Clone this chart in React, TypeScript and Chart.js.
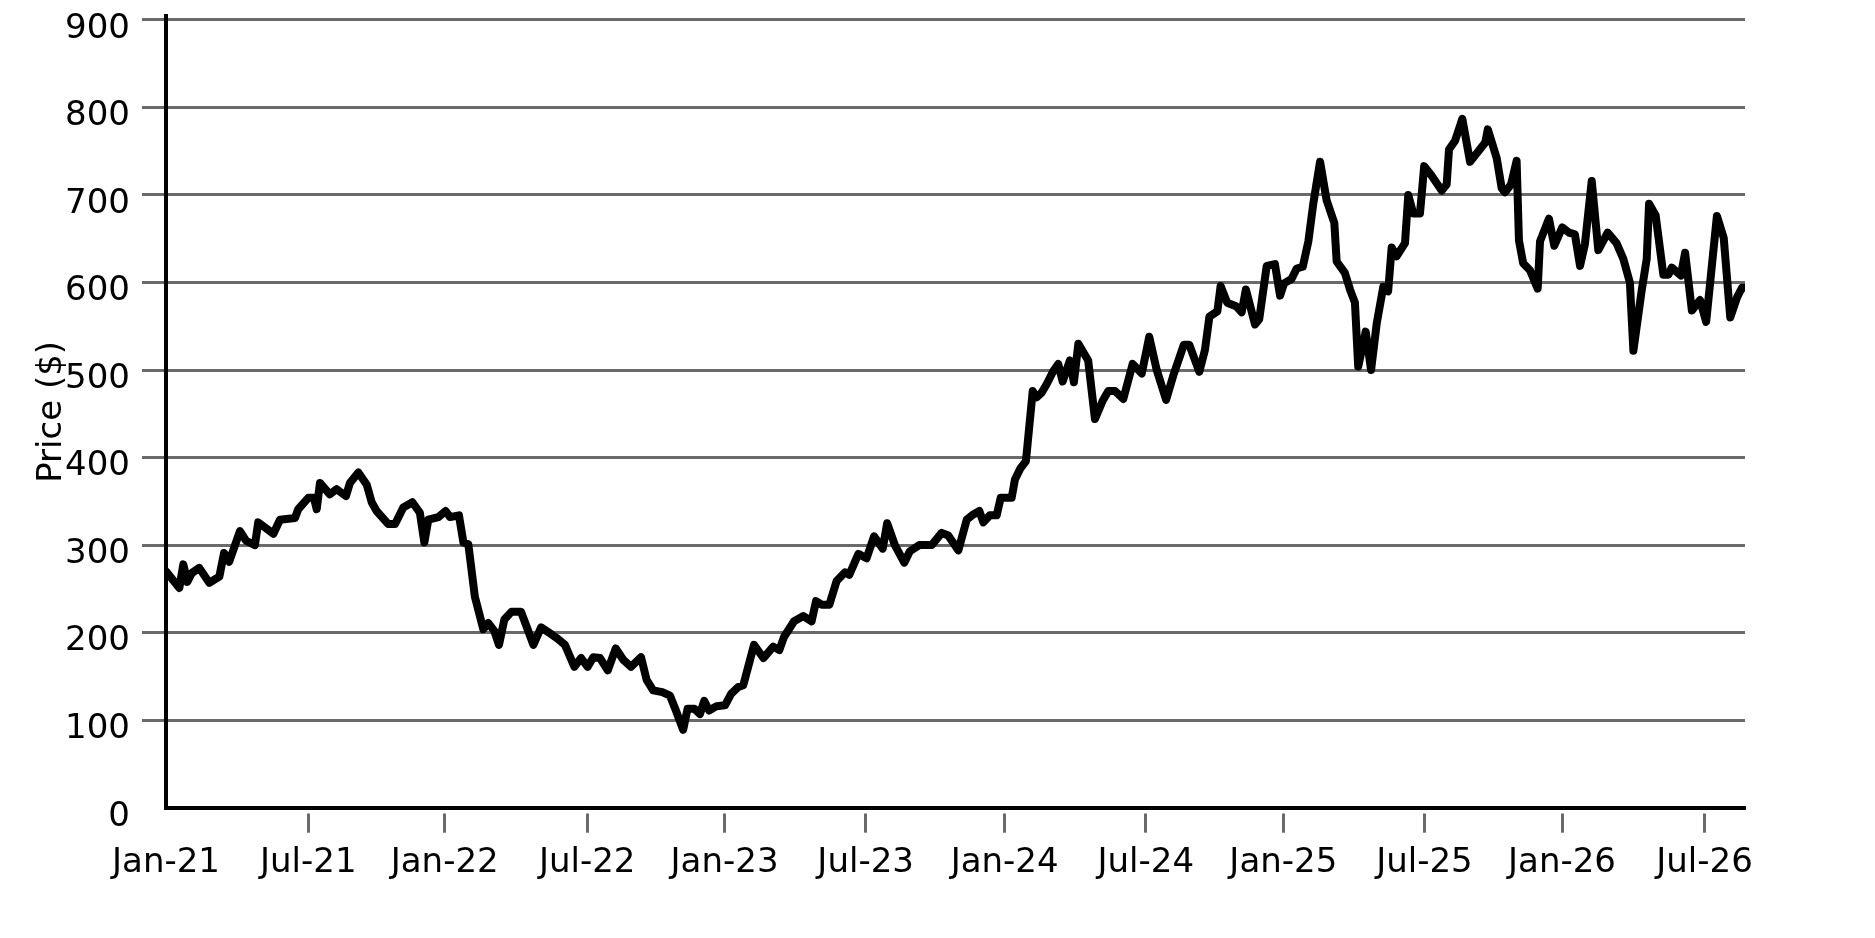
import React, { useEffect, useRef } from "react";
import { Chart, registerables } from "chart.js";

Chart.register(...registerables);

// x = months since Jan 2021, y = price in $
const months = [
  0.0, 0.57, 0.74, 0.91, 1.1, 1.42, 1.85, 2.28, 2.48, 2.7, 3.16, 3.42, 3.8, 3.94, 4.59, 4.87, 5.51, 5.65,
  6.08, 6.32, 6.44, 6.58, 7.0, 7.29, 7.69, 7.86, 8.22,
  8.58, 8.79, 9.0, 9.5, 9.79, 10.14, 10.53, 10.85, 11.04, 11.21, 11.64, 11.95, 12.14, 12.52, 12.71, 12.92,
  13.2, 13.56, 13.77, 14.03, 14.23, 14.46, 14.77, 15.17, 15.41, 15.7, 16.03, 16.48, 16.74, 17.05,
  17.45, 17.74, 18.02, 18.26, 18.55, 18.88, 19.22, 19.54, 19.87, 20.3, 20.54, 20.82, 21.21, 21.54, 21.82,
  22.1, 22.29, 22.58, 22.82, 23.0, 23.21, 23.53, 23.89, 24.15, 24.46, 24.67,
  25.13, 25.53, 25.95, 26.21, 26.41, 26.84, 27.24, 27.59, 27.78, 28.02, 28.35, 28.66, 29.02, 29.2, 29.59,
  29.94, 30.26, 30.63, 30.82, 31.15, 31.55, 31.79, 32.19, 32.72, 33.15,
  33.43, 33.86, 34.22, 34.5, 34.76, 34.93, 35.21, 35.5, 35.67, 36.14, 36.28, 36.5, 36.75, 37.04, 37.21,
  37.42, 37.64, 37.92, 38.13, 38.32, 38.63, 38.8, 38.99, 39.41, 39.7, 40.03, 40.27, 40.56, 40.91, 41.31, 41.7,
  42.02, 42.34, 42.74, 43.05, 43.5, 43.73, 44.16, 44.4, 44.59, 44.93, 45.07, 45.35, 45.73, 45.97, 46.15,
  46.54, 46.72, 47.04, 47.39, 47.61, 47.78, 48.1, 48.32, 48.58,
  48.82, 49.03, 49.32, 49.6, 49.93, 50.03, 50.38, 50.6, 50.81, 50.95, 51.27, 51.5, 51.74, 52.02, 52.23,
  52.38, 52.59, 52.95, 53.09, 53.3, 53.59, 53.77, 54.09, 54.52, 54.73, 54.83, 55.09, 55.4, 55.73, 56.06,
  56.38, 56.49, 56.87, 57.08, 57.22,
  57.48, 57.72, 57.82, 58.0, 58.29, 58.62, 58.72, 59.1, 59.33, 59.67, 59.96, 60.21, 60.43, 60.64, 60.93,
  61.21, 61.61, 61.99, 62.28, 62.56, 62.71, 63.06, 63.28, 63.38, 63.66, 63.99, 64.21, 64.35, 64.74, 64.92,
  65.21, 65.56, 65.82, 66.28, 66.57, 66.85, 67.14, 67.35, 67.45,
];

const prices = [
  270, 251, 278, 258, 268, 274, 257, 264, 291, 281, 316, 305, 300, 326, 313, 329, 331, 341,
  354, 354, 341, 371, 358, 364, 356, 371, 383,
  369, 349, 339, 324, 324, 343, 349, 337, 303, 329, 332, 339, 332, 334, 303, 301,
  241, 204, 211, 202, 186, 215, 224, 224, 207, 186, 206, 198, 193, 186,
  161, 171, 161, 172, 171, 157, 182, 169, 161, 172, 146, 134, 132, 128, 109,
  89, 113, 113, 107, 122, 111, 116, 117, 130, 138, 140,
  186, 171, 184, 180, 195, 213, 219, 213, 236, 232, 232, 259, 269, 266, 290,
  285, 310, 296, 325, 300, 280, 293, 300, 300, 314,
  311, 294, 329, 335, 339, 326, 334, 334, 354, 354, 375, 387, 396, 476, 469,
  474, 484, 499, 507, 487, 511, 486, 530, 511, 444, 465, 476, 476, 467, 507, 496,
  538, 500, 466, 494, 529, 529, 498, 523, 561, 567, 596, 577, 573, 566, 592,
  552, 558, 619, 621, 585, 599, 604, 616, 618,
  647, 690, 738, 694, 668, 624, 611, 592, 577, 504, 544, 500, 553, 595, 590,
  640, 630, 645, 700, 679, 679, 733, 722, 705, 712, 752, 762, 787, 738, 749,
  760, 775, 742, 708, 703,
  712, 739, 648, 622, 614, 593, 647, 673, 642, 663, 657, 655, 619, 644, 716,
  637, 657, 645, 627, 600, 522, 590, 627, 690, 677, 609, 609, 617, 608, 634,
  568, 580, 555, 676, 651, 560, 583, 594, 594,
];

// tick positions (same month unit as above) and their labels
const tickPositions = [0, 6.08, 11.91, 18.0, 23.87, 29.9, 35.84, 41.87, 47.75, 53.78, 59.66, 65.75];
const tickLabels = [
  "Jan-21", "Jul-21", "Jan-22", "Jul-22", "Jan-23", "Jul-23",
  "Jan-24", "Jul-24", "Jan-25", "Jul-25", "Jan-26", "Jul-26",
];

const yTicks = [0, 100, 200, 300, 400, 500, 600, 700, 800, 900];

const GRAY = "#6a6a6a";
const FONT = "'DejaVu Sans', 'Liberation Sans', sans-serif";

export default function App() {
  const ref = useRef<HTMLCanvasElement | null>(null);

  useEffect(() => {
    document.body.style.margin = "0";
    const canvas = ref.current;
    if (!canvas) return;
    Chart.defaults.font.family = FONT;
    const chart = new Chart(canvas, {
      type: "line",
      data: {
        datasets: [
          {
            label: "Price",
            data: months.map((m, i) => ({ x: m, y: prices[i] })),
            borderColor: "#000000",
            borderWidth: 8,
            pointRadius: 0,
            tension: 0,
            borderJoinStyle: "round",
            borderCapStyle: "round",
            fill: false,
          },
        ],
      },
      options: {
        animation: false,
        responsive: false,
        maintainAspectRatio: false,
        layout: { padding: { top: 16, right: 130, bottom: 0, left: 0 } },
        plugins: {
          legend: { display: false },
          tooltip: { enabled: false },
        },
        scales: {
          x: {
            type: "linear",
            min: 0,
            max: 67.48,
            afterBuildTicks: (scale: any) => {
              scale.ticks = tickPositions.map((v) => ({ value: v }));
            },
            afterFit: (scale: any) => {
              scale.height = 130.3;
              scale.paddingLeft = 0;
              scale.paddingRight = 0;
            },
            ticks: {
              autoSkip: false,
              maxRotation: 0,
              minRotation: 0,
              padding: 10,
              color: "#000000",
              font: { size: 34, family: FONT },
              callback: (value: any) => {
                const idx = tickPositions.indexOf(Number(value));
                return idx >= 0 ? tickLabels[idx] : "";
              },
            },
            grid: {
              drawOnChartArea: false,
              drawTicks: true,
              tickLength: 25,
              tickWidth: 3,
              tickColor: (ctx: any) =>
                ctx.tick && ctx.tick.value === 0 ? "rgba(0,0,0,0)" : GRAY,
              tickBorderDash: [20, 200],
              tickBorderDashOffset: -3.5,
            },
            border: { display: true, color: "#000000", width: 4 },
          },
          y: {
            type: "linear",
            min: 0,
            max: 904.5,
            afterBuildTicks: (scale: any) => {
              scale.ticks = yTicks.map((v) => ({ value: v }));
            },
            afterFit: (scale: any) => {
              scale.width = 166;
              scale.paddingTop = 0;
              scale.paddingBottom = 0;
            },
            title: {
              display: true,
              text: "Price ($)",
              color: "#000000",
              font: { size: 34, family: FONT },
              padding: { top: 32, bottom: 0 },
            },
            ticks: {
              padding: 12,
              labelOffset: 9,
              color: "#000000",
              font: { size: 34, family: FONT },
            },
            grid: {
              color: (ctx: any) =>
                ctx.tick && ctx.tick.value === 0 ? "rgba(0,0,0,0)" : GRAY,
              tickColor: (ctx: any) =>
                ctx.tick && ctx.tick.value === 0 ? "rgba(0,0,0,0)" : GRAY,
              lineWidth: 3,
              tickWidth: 3,
              tickLength: 24,
              drawTicks: true,
            },
            border: { display: true, color: "#000000", width: 4 },
          },
        },
      },
    });
    return () => chart.destroy();
  }, []);

  return (
    <div style={{ width: 1875, height: 938, position: "relative", background: "#ffffff" }}>
      <canvas
        ref={ref}
        width={1875}
        height={938}
        style={{ display: "block", width: 1875, height: 938 }}
      />
    </div>
  );
}
